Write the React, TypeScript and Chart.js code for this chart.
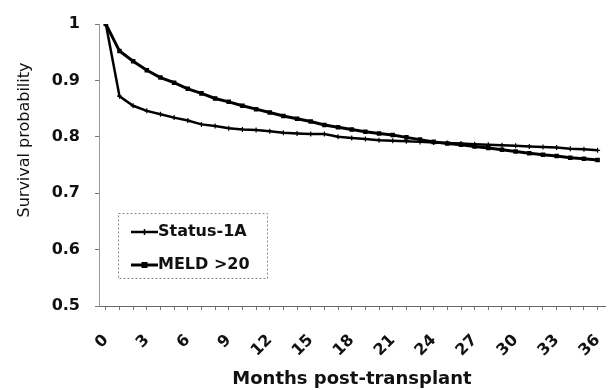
import React, { useEffect, useRef } from "react";
import { Chart, registerables } from "chart.js";

Chart.register(...registerables);

const months = [0, 1, 2, 3, 4, 5, 6, 7, 8, 9, 10, 11, 12, 13, 14, 15, 16, 17, 18, 19, 20, 21, 22, 23, 24, 25, 26, 27, 28, 29, 30, 31, 32, 33, 34, 35, 36];
const status1A = [1.0, 0.872, 0.855, 0.846, 0.84, 0.834, 0.829, 0.822, 0.819, 0.815, 0.813, 0.812, 0.81, 0.807, 0.806, 0.805, 0.805, 0.8, 0.798, 0.796, 0.794, 0.793, 0.792, 0.791, 0.79, 0.789, 0.788, 0.787, 0.786, 0.785, 0.784, 0.783, 0.782, 0.781, 0.779, 0.778, 0.776];
const meld20 = [1.0, 0.952, 0.934, 0.918, 0.905, 0.896, 0.885, 0.877, 0.868, 0.862, 0.855, 0.849, 0.843, 0.837, 0.832, 0.827, 0.821, 0.817, 0.813, 0.809, 0.806, 0.803, 0.799, 0.795, 0.791, 0.788, 0.786, 0.783, 0.78, 0.777, 0.774, 0.771, 0.768, 0.766, 0.763, 0.761, 0.759];
const xTickLabels = ["0", "3", "6", "9", "12", "15", "18", "21", "24", "27", "30", "33", "36"];
const seriesNames = ["Status-1A", "MELD >20"];
const xTitle = "Months post-transplant";
const yTitle = "Survival probability";

const FONT = "'DejaVu Sans', sans-serif";

const overlayPlugin = {
  id: "overlay",
  afterDraw(chart: any) {
    const ctx = chart.ctx;
    ctx.save();
    ctx.fillStyle = "#111";
    ctx.font = `16px ${FONT}`;
    ctx.textAlign = "center";
    ctx.textBaseline = "middle";
    ctx.translate(25, 140);
    ctx.rotate(-Math.PI / 2);
    ctx.fillText(yTitle, 0, 0);
    ctx.restore();

    ctx.save();
    ctx.fillStyle = "#111";
    ctx.font = `bold 18px ${FONT}`;
    ctx.textAlign = "center";
    ctx.textBaseline = "middle";
    ctx.fillText(xTitle, 352, 379);

    ctx.strokeStyle = "#888";
    ctx.lineWidth = 1;
    ctx.setLineDash([2, 2]);
    ctx.strokeRect(118.5, 213.5, 149, 65);
    ctx.setLineDash([]);

    const rows = [232, 265];
    rows.forEach((y, i) => {
      ctx.strokeStyle = "#000";
      ctx.lineWidth = i === 0 ? 2.5 : 3;
      ctx.beginPath();
      ctx.moveTo(131, y);
      ctx.lineTo(158, y);
      ctx.stroke();
      if (i === 0) {
        ctx.lineWidth = 1.5;
        ctx.beginPath();
        ctx.moveTo(144.5, y - 3);
        ctx.lineTo(144.5, y + 3);
        ctx.stroke();
      } else {
        ctx.fillStyle = "#000";
        ctx.fillRect(141.5, y - 3, 6, 6);
      }
      ctx.fillStyle = "#111";
      ctx.font = `bold 16px ${FONT}`;
      ctx.textAlign = "left";
      ctx.textBaseline = "middle";
      ctx.fillText(seriesNames[i], 158, y);
    });
    ctx.restore();
  },
};

export default function App() {
  const canvasRef = useRef<HTMLCanvasElement | null>(null);

  useEffect(() => {
    if (!canvasRef.current) return;
    const chart = new Chart(canvasRef.current, {
      type: "line",
      data: {
        labels: months,
        datasets: [
          {
            label: seriesNames[0],
            data: months.map((m, i) => ({ x: m, y: status1A[i] })),
            borderColor: "#000",
            backgroundColor: "#000",
            borderWidth: 2.5,
            pointStyle: "cross",
            pointRadius: 2.5,
            pointBorderWidth: 1.2,
            tension: 0,
          },
          {
            label: seriesNames[1],
            data: months.map((m, i) => ({ x: m, y: meld20[i] })),
            borderColor: "#000",
            backgroundColor: "#000",
            borderWidth: 3,
            pointStyle: "rect",
            pointRadius: 3.2,
            pointBorderWidth: 0,
            tension: 0,
          },
        ],
      },
      options: {
        animation: false,
        responsive: false,
        maintainAspectRatio: false,
        layout: { padding: { top: 24, right: 0, left: 0, bottom: 0 } },
        plugins: {
          legend: { display: false },
          tooltip: { enabled: false },
        },
        scales: {
          x: {
            type: "linear",
            min: -0.5,
            max: 36.6,
            afterBuildTicks: (s: any) => {
              s.ticks = months.map((v) => ({ value: v }));
            },
            afterFit: (s: any) => {
              s.height = 84;
              s.paddingLeft = 0;
              s.paddingRight = 0;
            },
            ticks: {
              autoSkip: false,
              minRotation: 45,
              maxRotation: 45,
              padding: 21,
              color: "#111",
              font: { family: FONT, size: 16, weight: "bold" },
              callback: (v: any) => {
                const label = String(v);
                return xTickLabels.includes(label) ? label : "";
              },
            },
            grid: { drawOnChartArea: false, tickLength: 4, color: "#777" },
            border: { color: "#666", width: 1 },
          },
          y: {
            min: 0.5,
            max: 1,
            afterFit: (s: any) => {
              s.width = 99;
              s.paddingTop = 0;
              s.paddingBottom = 0;
            },
            ticks: {
              stepSize: 0.1,
              padding: 15,
              color: "#111",
              font: { family: FONT, size: 16, weight: "bold" },
              callback: (v: any) => String(Math.round(Number(v) * 10) / 10),
            },
            grid: { drawOnChartArea: false, tickLength: 4, color: "#777" },
            border: { color: "#999", width: 1, dash: [2, 2] },
          },
        },
      },
      plugins: [overlayPlugin],
    });
    return () => chart.destroy();
  }, []);

  return (
    <div style={{ position: "fixed", left: 0, top: 0, width: 611, height: 390, background: "#fff" }}>
      <canvas ref={canvasRef} width={611} height={390} style={{ width: 611, height: 390 }} />
    </div>
  );
}
